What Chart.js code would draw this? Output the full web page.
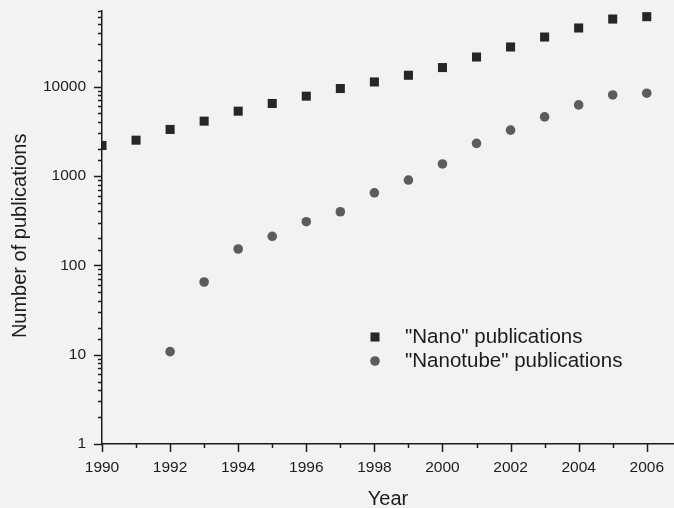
<!DOCTYPE html>
<html>
<head>
<meta charset="utf-8">
<script src="https://cdn.jsdelivr.net/npm/chart.js@4"></script>
<style>
  body { margin: 0; background: #f2f2f0; }
  canvas { display: block; }
</style>
</head>
<body>
<canvas id="pubs" width="674" height="508"></canvas>
<script>
  const years = [1990, 1991, 1992, 1993, 1994, 1995, 1996, 1997, 1998, 1999, 2000, 2001, 2002, 2003, 2004, 2005, 2006]
  const nanoCounts = [2190, 2510, 3310, 4100, 5300, 6460, 7800, 9500, 11250, 13370, 16300, 21400, 27700, 35800, 45200, 56900, 60500]
  const tubeYears = [1992, 1993, 1994, 1995, 1996, 1997, 1998, 1999, 2000, 2001, 2002, 2003, 2004, 2005, 2006]
  const tubeCounts = [10.8, 65, 152, 211, 307, 397, 647, 898, 1360, 2310, 3250, 4570, 6230, 8050, 8420]
  const seriesLabels = ['"Nano" publications', '"Nanotube" publications']
  const yLabels = [1, 10, 100, 1000, 10000]

  const inkColor = '#1c1c1c'
  const fontFamily = '"Liberation Sans", Arial, sans-serif'

  const toPoints = (xs, ys) => xs.map((x, i) => ({x: x, y: ys[i]}))

  // paper background + hand drawn tick marks (major / minor) + legend
  const paperAndTicks = {
    id: 'paperAndTicks',
    beforeDraw(chart) {
      const ctx = chart.ctx
      ctx.save()
      ctx.fillStyle = '#f2f2f0'
      ctx.fillRect(0, 0, chart.width, chart.height)
      ctx.restore()
    },
    afterDraw(chart) {
      const ctx = chart.ctx
      const xs = chart.scales.x
      const ys = chart.scales.y
      ctx.save()
      ctx.strokeStyle = inkColor
      ctx.lineWidth = 1.5
      ctx.beginPath()
      ys.ticks.forEach(t => {
        const p = Math.round(ys.getPixelForValue(t.value)) + 0.5
        const major = Math.abs(Math.log10(t.value) % 1) < 1e-9
        const len = major ? 8 : 4
        ctx.moveTo(ys.right - len, p)
        ctx.lineTo(ys.right, p)
      })
      xs.ticks.forEach(t => {
        const p = Math.round(xs.getPixelForValue(t.value)) + 0.5
        const len = t.value % 2 === 0 ? 8 : 4
        ctx.moveTo(p, xs.top)
        ctx.lineTo(p, xs.top + len)
      })
      ctx.stroke()

      // legend inside the plot
      const legendX = 375
      const legendY = [337, 361]
      ctx.font = '20.5px ' + fontFamily
      ctx.textBaseline = 'middle'
      chart.data.datasets.forEach((ds, i) => {
        ctx.fillStyle = ds.backgroundColor
        Chart.helpers.drawPoint(ctx, {
          pointStyle: ds.pointStyle,
          radius: ds.pointRadius,
          borderWidth: 0
        }, legendX, legendY[i])
        ctx.fillStyle = inkColor
        ctx.fillText(ds.label, legendX + 30, legendY[i])
      })
      ctx.restore()
    }
  }

  new Chart(document.getElementById('pubs').getContext('2d'), {
    type: 'scatter',
    data: {
      datasets: [{
        label: seriesLabels[0],
        data: toPoints(years, nanoCounts),
        pointStyle: 'rect',
        pointRadius: 6.4,
        backgroundColor: '#262626',
        borderWidth: 0
      }, {
        label: seriesLabels[1],
        data: toPoints(tubeYears, tubeCounts),
        pointStyle: 'circle',
        pointRadius: 4.8,
        backgroundColor: '#5c5c5c',
        borderWidth: 0
      }]
    },
    options: {
      responsive: false,
      animation: false,
      devicePixelRatio: 1,
      layout: { autoPadding: false, padding: { top: 11, left: 0, right: 0, bottom: 0 } },
      plugins: {
        legend: { display: false },
        tooltip: { enabled: false }
      },
      scales: {
        x: {
          type: 'linear',
          min: 1990,
          max: 2006.8,
          grid: { display: false, drawTicks: false },
          border: { display: true, color: inkColor, width: 1.5 },
          afterBuildTicks: scale => { scale.ticks = years.map(v => ({value: v})) },
          ticks: {
            autoSkip: false,
            maxRotation: 0,
            padding: 14,
            color: inkColor,
            font: { family: fontFamily, size: 15.5 },
            callback: v => v % 2 === 0 ? String(v) : ''
          },
          title: {
            display: true,
            text: 'Year',
            color: inkColor,
            font: { family: fontFamily, size: 20, lineHeight: 0.9 },
            padding: { top: 0, bottom: 0 }
          },
          afterFit: scale => {
            scale.height = 64
            scale.paddingLeft = 0
            scale.paddingRight = 0
          }
        },
        y: {
          type: 'logarithmic',
          min: 1,
          max: 70000,
          grid: { display: false, drawTicks: false },
          border: { display: true, color: inkColor, width: 1.5 },
          ticks: {
            autoSkip: false,
            padding: 16,
            color: inkColor,
            font: { family: fontFamily, size: 15.5 },
            callback: v => yLabels.includes(v) ? String(v) : ''
          },
          title: {
            display: true,
            text: 'Number of publications   ',
            color: inkColor,
            font: { family: fontFamily, size: 20 },
            padding: { top: 8, bottom: 0 }
          },
          afterFit: scale => {
            scale.width = 102
            scale.paddingTop = 0
            scale.paddingBottom = 0
          }
        }
      }
    },
    plugins: [paperAndTicks]
  })
</script>
</body>
</html>
